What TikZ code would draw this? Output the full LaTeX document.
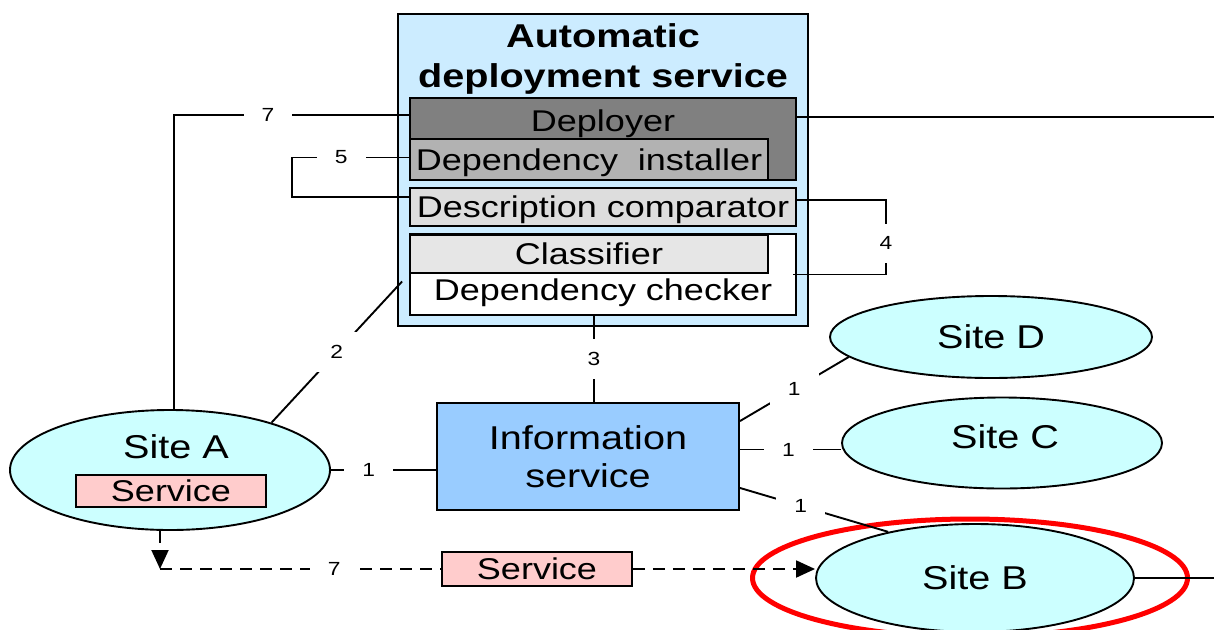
\documentclass[tikz,border=0pt]{standalone}
\usepackage{fontspec}
\setmainfont{Liberation Sans}[FakeStretch=1.2]
\usepackage{tikz}
\usetikzlibrary{shapes.geometric}
\usetikzlibrary{arrows.meta}

\definecolor{adsblue}{HTML}{CCECFF}
\definecolor{deepgray}{HTML}{808080}
\definecolor{midgray}{HTML}{B2B2B2}
\definecolor{softgray}{HTML}{DDDDDD}
\definecolor{palegray}{HTML}{E6E6E6}
\definecolor{infoblue}{HTML}{99CCFF}
\definecolor{sitecyan}{HTML}{CCFFFF}
\definecolor{servicepink}{HTML}{FFCCCC}

\newcommand{\titlefont}{\fontsize{33}{40}\selectfont\bfseries}
\newcommand{\sitefont}{\fontsize{33}{38}\selectfont}
\newcommand{\partfont}{\fontsize{30}{34}\selectfont}
\newcommand{\numfont}{\fontsize{19}{21}\selectfont}

\begin{document}
\begin{tikzpicture}[x=1pt, y=-1pt, line width=1.9pt,
  >={Triangle[length=19pt, width=17pt]},
  box/.style={draw, rectangle, inner sep=0pt},
  site/.style={draw, ellipse, fill=sitecyan, inner sep=0pt},
  lbl/.style={fill=white, inner xsep=18pt, inner ysep=13pt, font=\numfont},
  dashlink/.style={dash pattern=on 12pt off 8pt}]

  \clip (0,0) rectangle (1214,629);

  % Servizio di deployment automatico
  \node[box, fill=adsblue, minimum width=410pt, minimum height=312pt] (ads) at (603,170) {};
  \node[font=\titlefont, align=center] (adstitle) at (603,59) {Automatic\\deployment service};

  % Componenti interni
  \node[box, fill=deepgray, minimum width=386pt, minimum height=82pt] (deployer) at (603,139) {};
  \node[font=\partfont] (deplab) at (603,124) {Deployer};
  \node[box, fill=midgray, minimum width=358pt, minimum height=41pt, text depth=0pt, font=\partfont] (installer) at (589,159.5) {Dependency\ \ installer};
  \node[box, fill=softgray, minimum width=386pt, minimum height=38pt, text depth=0pt, font=\partfont] (comparator) at (603,207) {Description comparator};
  \node[box, fill=white, minimum width=386pt, minimum height=81pt] (checker) at (603,274.5) {};
  \node[box, fill=palegray, minimum width=358pt, minimum height=38pt, font=\partfont] (classifier) at (589,254) {Classifier};
  \node[font=\partfont] (checklab) at (603,293) {Dependency checker};

  % Servizio informativo
  \node[box, fill=infoblue, minimum width=302pt, minimum height=107pt, align=center, font=\sitefont] (info) at (588,456.5) {Information\\service};

  % Siti
  \node[site, minimum width=320pt, minimum height=120pt] (siteA) at (170,470) {};
  \node[font=\sitefont] (siteAlab) at (176,447) {Site A};
  \node[box, fill=servicepink, minimum width=190pt, minimum height=32pt, font=\partfont] (svcA) at (171,491) {Service};
  \node[site, minimum width=322pt, minimum height=82pt, font=\sitefont] (siteD) at (991,337) {Site D};
  \node[site, minimum width=320pt, minimum height=91pt] (siteC) at (1002,443) {};
  \node[font=\sitefont] (siteClab) at (1005,437) {Site C};
  \node[site, minimum width=318pt, minimum height=108pt, font=\sitefont] (siteB) at (975,578) {Site B};
  \node[draw=red, line width=5pt, ellipse, minimum width=435pt, minimum height=118pt] (ring) at (970,578) {};
  \node[box, fill=servicepink, minimum width=190pt, minimum height=34pt, font=\partfont] (svcMove) at (537,569) {Service};

  % Estremi liberi
  \coordinate (outR) at (1230,118);
  \coordinate (outB) at (1230,578);
  \coordinate (turn) at (160,569);

  % Collegamenti
  \draw ([xshift=4pt]siteA.north) |- node[lbl, pos=0.7] {7} ([yshift=-18pt]deployer.north west);
  \draw ([yshift=2pt]installer.west) -- node[lbl, pos=0.58] {5} ++(-117,0) |- ([yshift=10pt]comparator.west);
  \draw ([yshift=7pt]comparator.east) -- ++(89,0) |- node[lbl, pos=0.29] {4} ([xshift=-4pt]checker.east);
  \draw ([yshift=-20pt]deployer.north east) -- ([yshift=-20pt]deployer.north east -| outR);
  \draw (siteA.25) -- node[lbl] {2} ([xshift=-7pt, yshift=-7pt]checker.west);
  \draw ([xshift=-9pt]checker.south) -- node[lbl] {3} ([xshift=6pt]info.north);
  \draw (siteA.east) -- node[lbl, pos=0.36] {1} (siteA.east -| info.west);
  \draw ([yshift=-19pt]info.north east) -- node[lbl] {1} (siteD.188);
  \draw ([yshift=7pt]info.east) -- node[lbl, pos=0.48] {1} ([yshift=7pt]info.east -| siteC.west);
  \draw ([yshift=23pt]info.south east) -- node[lbl, pos=0.41] {1} (siteB.152);
  \draw (siteB.east) -- (outB);

  % Migrazione del servizio
  \draw[dashlink, ->] ([xshift=-10pt]siteA.south) -- (turn);
  \draw[dashlink] (turn) -- node[lbl, pos=0.62] {7} (svcMove.west);
  \draw[dashlink, ->] (svcMove.east) -- (svcMove.east -| siteB.west);
\end{tikzpicture}
\end{document}
